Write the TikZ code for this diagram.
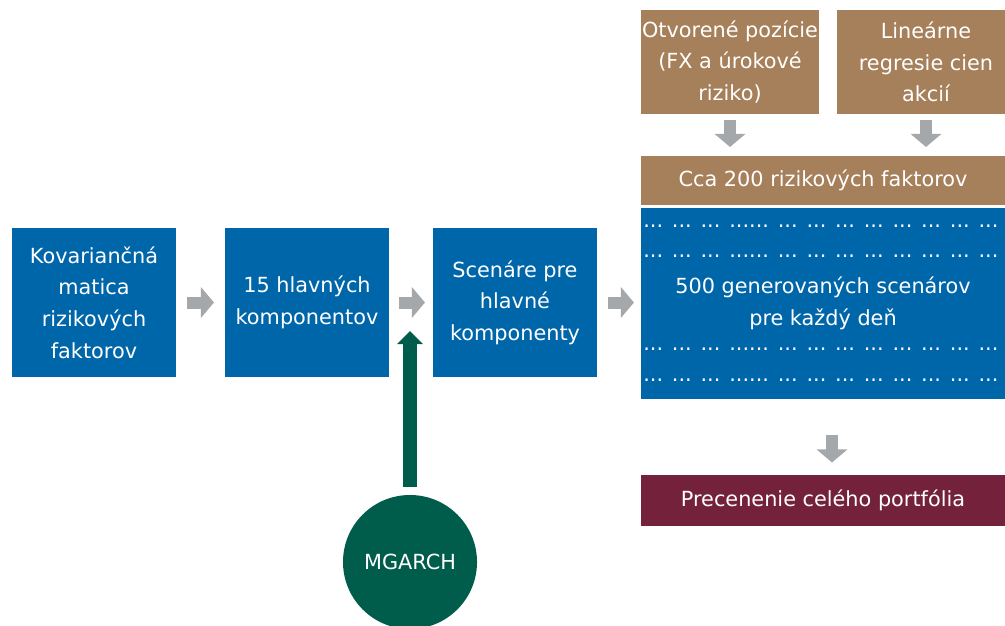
\documentclass[tikz,border=0pt]{standalone}
\usepackage{fontspec}
\setmainfont{DejaVu Sans}
\usetikzlibrary{arrows.meta}
\definecolor{boxblue}{HTML}{0066AA}
\definecolor{boxbrown}{HTML}{A6805A}
\definecolor{boxred}{HTML}{74213C}
\definecolor{boxgreen}{HTML}{005C4B}
\definecolor{arrowgray}{HTML}{A5A8AA}
\begin{document}
\begin{tikzpicture}
  [x=0.025cm,y=-0.025cm,
   step box/.style={rectangle,fill=boxblue,text=white,align=center,
                    inner sep=0,outer sep=0,minimum width=4.1cm,minimum height=3.725cm},
   input box/.style={rectangle,fill=boxbrown,text=white,align=center,
                     inner sep=0,outer sep=0,minimum width=4.45cm,minimum height=2.6cm},
   wide box/.style={rectangle,fill=#1,text=white,align=center,
                    inner sep=0,outer sep=0,minimum width=9.1cm},
   model/.style={circle,fill=boxgreen,text=white,inner sep=0,outer sep=0,
                 minimum size=3.35cm},
   dots/.style={anchor=west,text=white,inner sep=0},
   flow/.style={arrowgray,line width=0.3cm,
                -{Triangle[width=0.75cm,length=0.325cm]}},
   feed/.style={boxgreen,line width=0.33cm,
                -{Triangle[width=0.63cm,length=0.33cm]}}]
  \fontsize{14.8}{22.5}\selectfont
  \useasboundingbox (0,0) rectangle (1005,625);
  % main chain
  \node[step box] (kov) at (94,302.5)
    {Kovariančná\\matica\\rizikových\\faktorov};
  \node[step box] (komp) at (307,302.5) {15 hlavných\\komponentov};
  \node[step box] (scen) at (515,302.5) {Scenáre pre\\hlavné\\komponenty};
  % inputs for risk factors
  \node[input box] (otv) at (730,62) {Otvorené pozície\\(FX a úrokové\\riziko)};
  \node[input box] (lin) at (926,62) {Lineárne\\regresie cien\\akcií};
  \node[wide box=boxbrown,minimum height=1.225cm] (cca) at (823,180.5)
    {Cca 200 rizikových faktorov};
  \node[wide box=boxblue,minimum height=4.775cm] (gen) at (823,303.5)
    {500 generovaných scenárov\\pre každý deň};
  \foreach \y in {226,256,349,380}
    \node[dots] at (643,\y)
      {... ... ... ...... ... ... ... ... ... ... ... ...};
  \node[wide box=boxred,minimum height=1.275cm] (pre) at (823,500)
    {Precenenie celého portfólia};
  \node[model] (mg) at (410,562) {MGARCH};
  % arrows
  \draw[flow,shorten <=0.275cm,shorten >=0.275cm] (kov) -- (komp);
  \draw[flow,shorten <=0.25cm,shorten >=0.2cm] (komp) -- (scen);
  \draw[flow,shorten <=0.275cm,shorten >=0.175cm] (scen.east) -- (gen.west |- scen.east);
  \draw[flow,shorten <=0.15cm,shorten >=0.225cm] (otv) -- (otv |- cca.north);
  \draw[flow,shorten <=0.15cm,shorten >=0.225cm] (lin) -- (lin |- cca.north);
  \draw[flow,shorten <=0.9cm,shorten >=0.3cm] ([xshift=0.225cm]gen.south)
    -- ([xshift=0.225cm]pre.north);
  \draw[feed] ([yshift=0.2cm]mg.north) -- ++(0,-156);
\end{tikzpicture}
\end{document}
